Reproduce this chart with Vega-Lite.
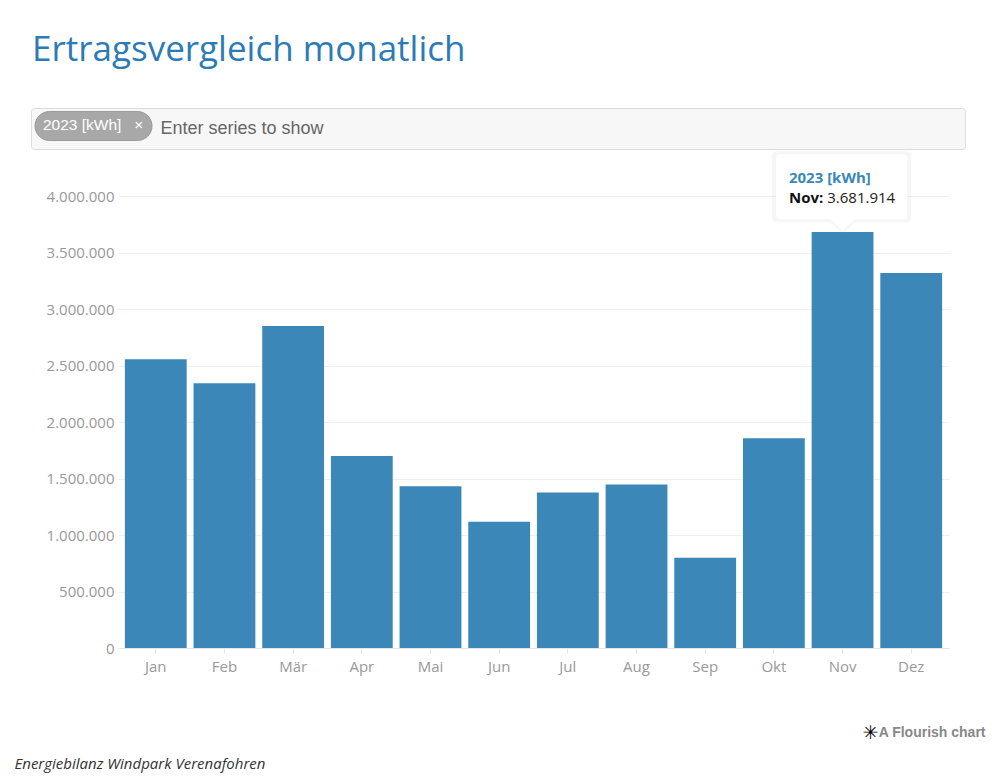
{
  "$schema": "https://vega.github.io/schema/vega-lite/v6.json",
  "width": 831,
  "height": 452,
  "autosize": {"type": "none"},
  "padding": {"left": 118, "top": 196, "right": 47, "bottom": 129},
  "background": "white",
  "title": {
    "text": "Ertragsvergleich monatlich",
    "anchor": "start",
    "frame": "group",
    "dx": -86,
    "dy": -36,
    "font": "Open Sans",
    "fontSize": 35,
    "fontWeight": "normal",
    "color": "#2b7bb6"
  },
  "config": {
    "locale": {"number": {"decimal": ",", "thousands": ".", "grouping": [3], "currency": ["", " €"]}},
    "view": {"stroke": null},
    "font": "Open Sans"
  },
  "data": {
    "values": [
      {"month": "Jan", "series": "2023 [kWh]", "value": 2555000},
      {"month": "Feb", "series": "2023 [kWh]", "value": 2343000},
      {"month": "Mär", "series": "2023 [kWh]", "value": 2850000},
      {"month": "Apr", "series": "2023 [kWh]", "value": 1700000},
      {"month": "Mai", "series": "2023 [kWh]", "value": 1432000},
      {"month": "Jun", "series": "2023 [kWh]", "value": 1117000},
      {"month": "Jul", "series": "2023 [kWh]", "value": 1376000},
      {"month": "Aug", "series": "2023 [kWh]", "value": 1447000},
      {"month": "Sep", "series": "2023 [kWh]", "value": 798000},
      {"month": "Okt", "series": "2023 [kWh]", "value": 1857000},
      {"month": "Nov", "series": "2023 [kWh]", "value": 3681914},
      {"month": "Dez", "series": "2023 [kWh]", "value": 3318000}
    ]
  },
  "layer": [
    {
      "mark": {"type": "bar", "color": "#3a87b8"},
      "encoding": {
        "x": {
          "field": "month", "type": "nominal",
          "sort": ["Jan","Feb","Mär","Apr","Mai","Jun","Jul","Aug","Sep","Okt","Nov","Dez"],
          "scale": {"paddingInner": 0.1, "paddingOuter": 0.1},
          "axis": {
            "labelAngle": 0, "labelFont": "Open Sans", "labelFontSize": 15, "labelColor": "#999999",
            "labelPadding": 6, "tickSize": 5, "tickColor": "#e6e6e6", "domainColor": "#e6e6e6", "grid": false,
            "title": "Energiebilanz Windpark Verenafohren",
            "titleX": -104, "titleY": 115, "titleAlign": "left", "titleBaseline": "middle",
            "titleFont": "Open Sans", "titleFontStyle": "italic", "titleFontSize": 15, "titleFontWeight": "normal", "titleColor": "#333333"
          }
        },
        "y": {
          "field": "value", "type": "quantitative",
          "scale": {"domain": [0, 4000000], "nice": false},
          "axis": {
            "orient": "left", "format": ",d",
            "values": [0, 500000, 1000000, 1500000, 2000000, 2500000, 3000000, 3500000, 4000000],
            "grid": true, "gridColor": "#efefef", "domain": false, "ticks": false,
            "labelPadding": 4, "labelFont": "Open Sans", "labelFontSize": 15, "labelColor": "#999999",
            "title": "A Flourish chart", "titleAngle": 0, "titleX": 867, "titleY": 536,
            "titleAlign": "right", "titleBaseline": "middle",
            "titleFont": "Liberation Sans", "titleFontSize": 14, "titleFontWeight": "bold", "titleColor": "#888888"
          }
        }
      }
    },
    {
      "transform": [{"filter": {"field": "month", "equal": "Nov"}}],
      "mark": {"type": "point", "shape": "M-65.6,-80.7 H63.7 Q68.7,-80.7 68.7,-75.7 V-14.7 Q68.7,-9.7 63.7,-9.7 H12 L0,2 L-12,-9.7 H-65.6 Q-70.6,-9.7 -70.6,-14.7 V-75.7 Q-70.6,-80.7 -65.6,-80.7 Z", "size": 4, "filled": true, "opacity": 0.1, "strokeWidth": 0},
      "encoding": {
        "x": {"field": "month", "type": "nominal", "sort": ["Jan","Feb","Mär","Apr","Mai","Jun","Jul","Aug","Sep","Okt","Nov","Dez"]},
        "y": {"field": "value", "type": "quantitative", "axis": null},
        "color": {
          "field": "series", "type": "nominal",
          "scale": {"range": ["#a8a8a8"]},
          "legend": {
            "orient": "none", "legendX": -87, "legendY": -88,
            "direction": "horizontal",
            "title": "Enter series to show\u00a0\u00a0\u00a0\u00a0\u00a0\u00a0\u00a0\u00a0\u00a0\u00a0\u00a0\u00a0\u00a0\u00a0\u00a0\u00a0\u00a0\u00a0\u00a0\u00a0\u00a0\u00a0\u00a0\u00a0\u00a0\u00a0\u00a0\u00a0\u00a0\u00a0\u00a0\u00a0\u00a0\u00a0\u00a0\u00a0\u00a0\u00a0\u00a0\u00a0\u00a0\u00a0\u00a0\u00a0\u00a0\u00a0\u00a0\u00a0\u00a0\u00a0\u00a0\u00a0\u00a0\u00a0\u00a0\u00a0\u00a0\u00a0\u00a0\u00a0\u00a0\u00a0\u00a0\u00a0\u00a0\u00a0\u00a0\u00a0\u00a0\u00a0\u00a0\u00a0\u00a0\u00a0\u00a0\u00a0\u00a0\u00a0\u00a0\u00a0\u00a0\u00a0\u00a0\u00a0\u00a0\u00a0\u00a0\u00a0\u00a0\u00a0\u00a0\u00a0\u00a0\u00a0\u00a0\u00a0\u00a0\u00a0\u00a0\u00a0\u00a0\u00a0\u00a0\u00a0\u00a0\u00a0\u00a0\u00a0\u00a0\u00a0\u00a0\u00a0\u00a0\u00a0\u00a0\u00a0\u00a0\u00a0\u00a0\u00a0\u00a0\u00a0\u00a0\u00a0\u00a0\u00a0\u00a0\u200b",
            "titleOrient": "right",
            "titleFont": "Liberation Sans", "titleFontSize": 18, "titleFontWeight": "normal", "titleColor": "#666666",
            "titlePadding": 6, "titleLimit": 3000, "titleBaseline": "middle",
            "symbolType": "M0.1364,-1.2273 H8.1364 A1.3182,1.3182 0 0 1 8.1364,1.4091 H0.1364 A1.3182,1.3182 0 0 1 0.1364,-1.2273 Z",
            "symbolSize": 484, "symbolStrokeWidth": 1, "symbolStrokeColor": "#9a9a9a", "symbolOpacity": 1,
            "labelFont": "Liberation Sans", "labelFontSize": 15.5, "labelColor": "#ffffff", "labelOffset": -16.5,
            "labelExpr": "datum.label + '\u00a0\u00a0\u00a0×'",
            "fillColor": "#f7f7f7", "strokeColor": "#dcdcdc", "cornerRadius": 3, "padding": 5.5
          }
        }
      }
    },
    {
      "transform": [{"filter": {"field": "month", "equal": "Nov"}}],
      "mark": {"type": "point", "shape": "M-62.6,-77.7 H60.7 Q64.7,-77.7 64.7,-73.7 V-16.7 Q64.7,-12.7 60.7,-12.7 H12 L0,-1 L-12,-12.7 H-62.6 Q-66.6,-12.7 -66.6,-16.7 V-73.7 Q-66.6,-77.7 -62.6,-77.7 Z", "size": 4, "filled": true, "color": "#ffffff", "opacity": 1, "strokeWidth": 0},
      "encoding": {
        "x": {"field": "month", "type": "nominal", "sort": ["Jan","Feb","Mär","Apr","Mai","Jun","Jul","Aug","Sep","Okt","Nov","Dez"]},
        "y": {
          "field": "value", "type": "quantitative",
          "axis": {
            "orient": "right", "labels": false, "ticks": false, "domain": false, "grid": false,
            "title": "✳", "titleAngle": 0, "titleX": -79, "titleY": 536, "titleAlign": "center", "titleBaseline": "middle",
            "titleFont": "DejaVu Sans", "titleFontSize": 19, "titleFontWeight": "bold", "titleColor": "#000000"
          }
        }
      }
    },
    {
      "transform": [{"filter": {"field": "month", "equal": "Nov"}}],
      "mark": {"type": "text", "align": "left", "baseline": "middle", "dx": -53.6, "dy": -54, "font": "Open Sans", "fontSize": 15, "fontWeight": "bold", "color": "#3a87b8"},
      "encoding": {
        "x": {"field": "month", "type": "nominal", "sort": ["Jan","Feb","Mär","Apr","Mai","Jun","Jul","Aug","Sep","Okt","Nov","Dez"]},
        "y": {"field": "value", "type": "quantitative", "axis": null},
        "text": {"field": "series"}
      }
    },
    {
      "transform": [{"filter": {"field": "month", "equal": "Nov"}}],
      "mark": {"type": "text", "align": "left", "baseline": "middle", "dx": -53.6, "dy": -34, "font": "Open Sans", "fontSize": 15, "fontWeight": "bold", "color": "#111111"},
      "encoding": {
        "x": {"field": "month", "type": "nominal", "sort": ["Jan","Feb","Mär","Apr","Mai","Jun","Jul","Aug","Sep","Okt","Nov","Dez"]},
        "y": {"field": "value", "type": "quantitative", "axis": null},
        "text": {"value": "Nov:"}
      }
    },
    {
      "transform": [{"filter": {"field": "month", "equal": "Nov"}}],
      "mark": {"type": "text", "align": "left", "baseline": "middle", "dx": -15.3, "dy": -34, "font": "Open Sans", "fontSize": 15, "fontWeight": "normal", "color": "#222222"},
      "encoding": {
        "x": {"field": "month", "type": "nominal", "sort": ["Jan","Feb","Mär","Apr","Mai","Jun","Jul","Aug","Sep","Okt","Nov","Dez"]},
        "y": {"field": "value", "type": "quantitative", "axis": null},
        "text": {"field": "value", "type": "quantitative", "format": ",d"}
      }
    }
  ],
  "resolve": {"axis": {"y": "independent"}}
}
